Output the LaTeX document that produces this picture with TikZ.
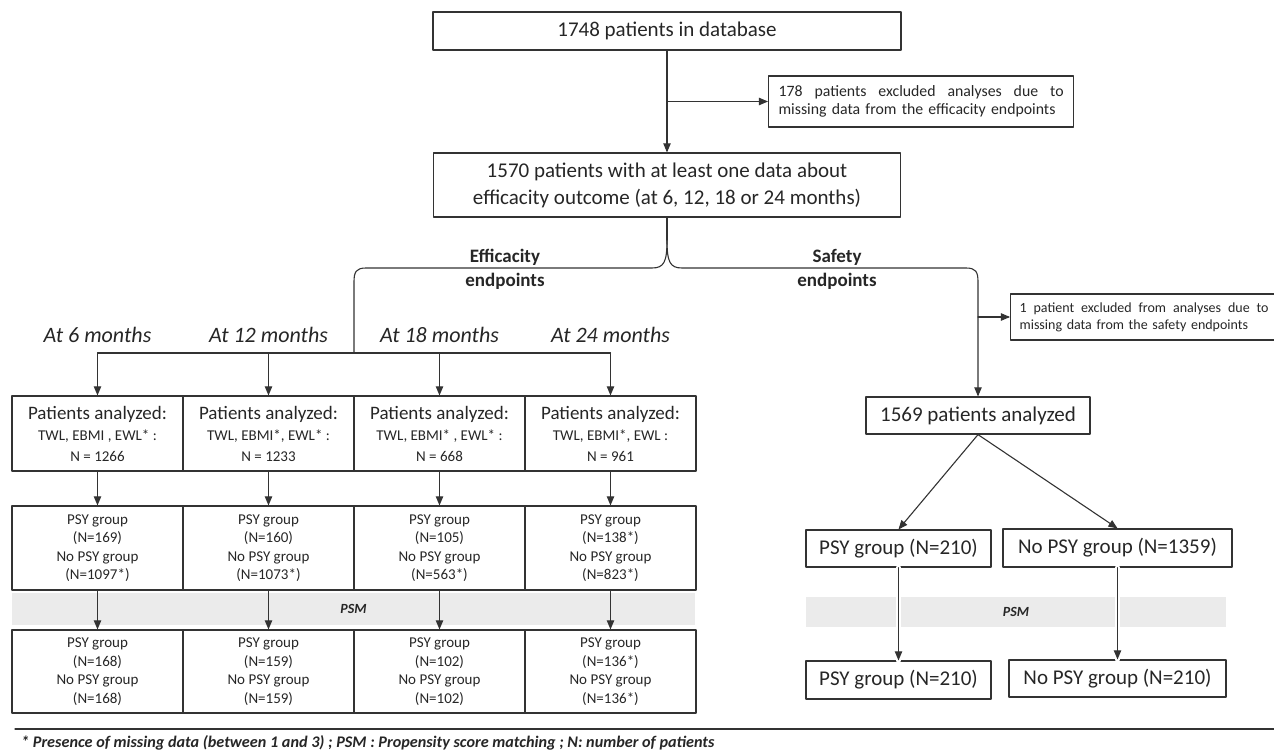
\documentclass[tikz,border=0pt]{standalone}
\usepackage{fontspec}
\setmainfont{Carlito}
\usepackage{tikz}
\usetikzlibrary{arrows}
\newcommand{\LineColor}{black!80}
\newcommand{\FontPx}[2]{\fontsize{#1pt}{#2pt}\selectfont}
\tikzset{
  box/.style={draw=\LineColor,line width=1.2pt,align=center,inner sep=2pt,text=black!85},
  bigbox/.style={box,font=\FontPx{21}{27}},
  notebox/.style={draw=\LineColor,line width=1.2pt,align=left,inner ysep=2pt,text=black!85},
  band/.style={fill=black!8,inner sep=0pt,font=\bfseries\itshape\FontPx{14}{16},text=black!85},
  link/.style={draw=\LineColor,line width=1.1pt},
  gap/.style={preaction={draw=white,line width=5pt,-}}
}

\begin{document}
\begin{tikzpicture}[line cap=round,line join=round,>=triangle 45,x=1pt,y=-1pt]
  \useasboundingbox (0,0) rectangle (1274,751);
  % top of the chart
  \node[bigbox,minimum width=468,minimum height=38] (db) at (667,31) {1748 patients in database};
  \node[notebox,anchor=west,inner xsep=10pt,text width=285pt,minimum height=51,font=\FontPx{15.8}{18}] (excl) at (768,101.5)
    {\hbox to 285pt{178\hfill patients\hfill excluded\hfill analyses\hfill due\hfill to}\\missing data from the efficacity endpoints};
  \node[bigbox,minimum width=467,minimum height=64] (outcome) at (667,185)
    {1570 patients with at least one data about\\efficacity outcome (at 6, 12, 18 or 24 months)};
  \draw[link,->] (db.south) -- (outcome.north);
  \draw[link,->] (db.south |- excl.west) -- (excl.west);

  \node[align=center,font=\bfseries\FontPx{19}{24},text=black!85] (effLbl) at (505,269) {Efficacity\\endpoints};
  \node[align=center,font=\bfseries\FontPx{19}{24},text=black!85] (safeLbl) at (837,269) {Safety\\endpoints};

  % safety side
  \node[box,font=\FontPx{21}{25},minimum width=224,minimum height=37] (an) at (978,415.5) {1569 patients analyzed};
  \node[notebox,anchor=west,inner xsep=9pt,text width=262pt,minimum height=46,font=\FontPx{14}{17}] (excl2) at (1010,317)
    {\hbox to 249pt{1\hfill patient\hfill excluded\hfill from\hfill analyses\hfill due\hfill to}\\missing data from the safety endpoints};
  \node[box,font=\FontPx{21}{25},minimum width=185,minimum height=37] (psy) at (898.5,548.5) {PSY group (N=210)};
  \node[box,font=\FontPx{21}{25},minimum width=229,minimum height=38] (nopsy) at (1117.5,548) {No PSY group (N=1359)};
  \node[band,minimum width=420,minimum height=30] (psmR) at (1016,612) {PSM};
  \node[box,font=\FontPx{21}{25},minimum width=185,minimum height=38] (psy2) at (898.5,680) {PSY group (N=210)};
  \node[box,font=\FontPx{21}{25},minimum width=217,minimum height=37] (nopsy2) at (1117.5,678.5) {No PSY group (N=210)};

  % the brace under the outcome box
  \coordinate (split) at (667,240);
  \coordinate (row) at (354,353);
  \draw[link] (outcome.south) -- (split);
  \draw[link] (split) .. controls (667,262) and (664,268) .. (652,268) -- (366,268)
    .. controls (356,268) and (354,272) .. (354,282) -- (row);
  \draw[link,->] (split) .. controls (667,262) and (670,268) .. (682,268) -- (966,268)
    .. controls (976,268) and (978,272) .. (978,282) -- (an.north);
  \draw[link,->] (an.north |- excl2.west) -- (excl2.west);
  \draw[link,->] (an.south) -- (psy.north);
  \draw[link,->] (an.south) -- (nopsy.north);
  \draw[link,->,gap] (psy.south) -- (psy2.north);
  \draw[link,->,gap] (nopsy.south) -- (nopsy2.north);

  % efficacy side
  \node[band,minimum width=683,minimum height=32] (psmL) at (353.5,609) {PSM};
  \foreach \x/\m/\crit/\n/\ps/\nps/\psb/\npsb in {
      97.5/6/{TWL, EBMI , EWL* :}/1266/169/1097*/168/168,
      268.5/12/{TWL, EBMI*, EWL* :}/1233/160/1073*/159/159,
      439.5/18/{TWL, EBMI* , EWL* :}/668/105/563*/102/102,
      610.5/24/{TWL, EBMI*, EWL :}/961/138*/823*/136*/136*}{
    \node[font=\itshape\FontPx{22}{25},text=black!85] (lbl\m) at (\x,335) {At \m\ months};
    \node[box,font=\FontPx{15}{21},minimum width=171,minimum height=75] (a\m) at (\x,433.5)
      {{\FontPx{19}{21}Patients analyzed:}\\\crit\\N = \n};
    \node[box,font=\FontPx{15}{18.5},minimum width=171,minimum height=84] (g\m) at (\x,548)
      {PSY group\\(N=\ps)\\No PSY group\\(N=\nps)};
    \node[box,font=\FontPx{15}{18.5},minimum width=171,minimum height=83] (f\m) at (\x,671.5)
      {PSY group\\(N=\psb)\\No PSY group\\(N=\npsb)};
    \draw[link,->] (a\m.north |- row) -- (a\m.north);
    \draw[link,->] (a\m.south) -- (g\m.north);
    \draw[link,->] (g\m.south) -- (f\m.north);
  }
  \draw[link] (a6.north |- row) -- (a24.north |- row);

  % footnote
  \coordinate (ruleL) at (15,729);
  \coordinate (ruleR) at (1274,729);
  \draw[link,line width=1.3pt] (ruleL) -- (ruleR);
  \node[anchor=west,inner sep=0pt,font=\bfseries\itshape\FontPx{16.2}{18},text=black!85] (note) at (21,743)
    {* Presence of missing data (between 1 and 3) ; PSM : Propensity score matching ; N: number of patients};
\end{tikzpicture}
\end{document}
